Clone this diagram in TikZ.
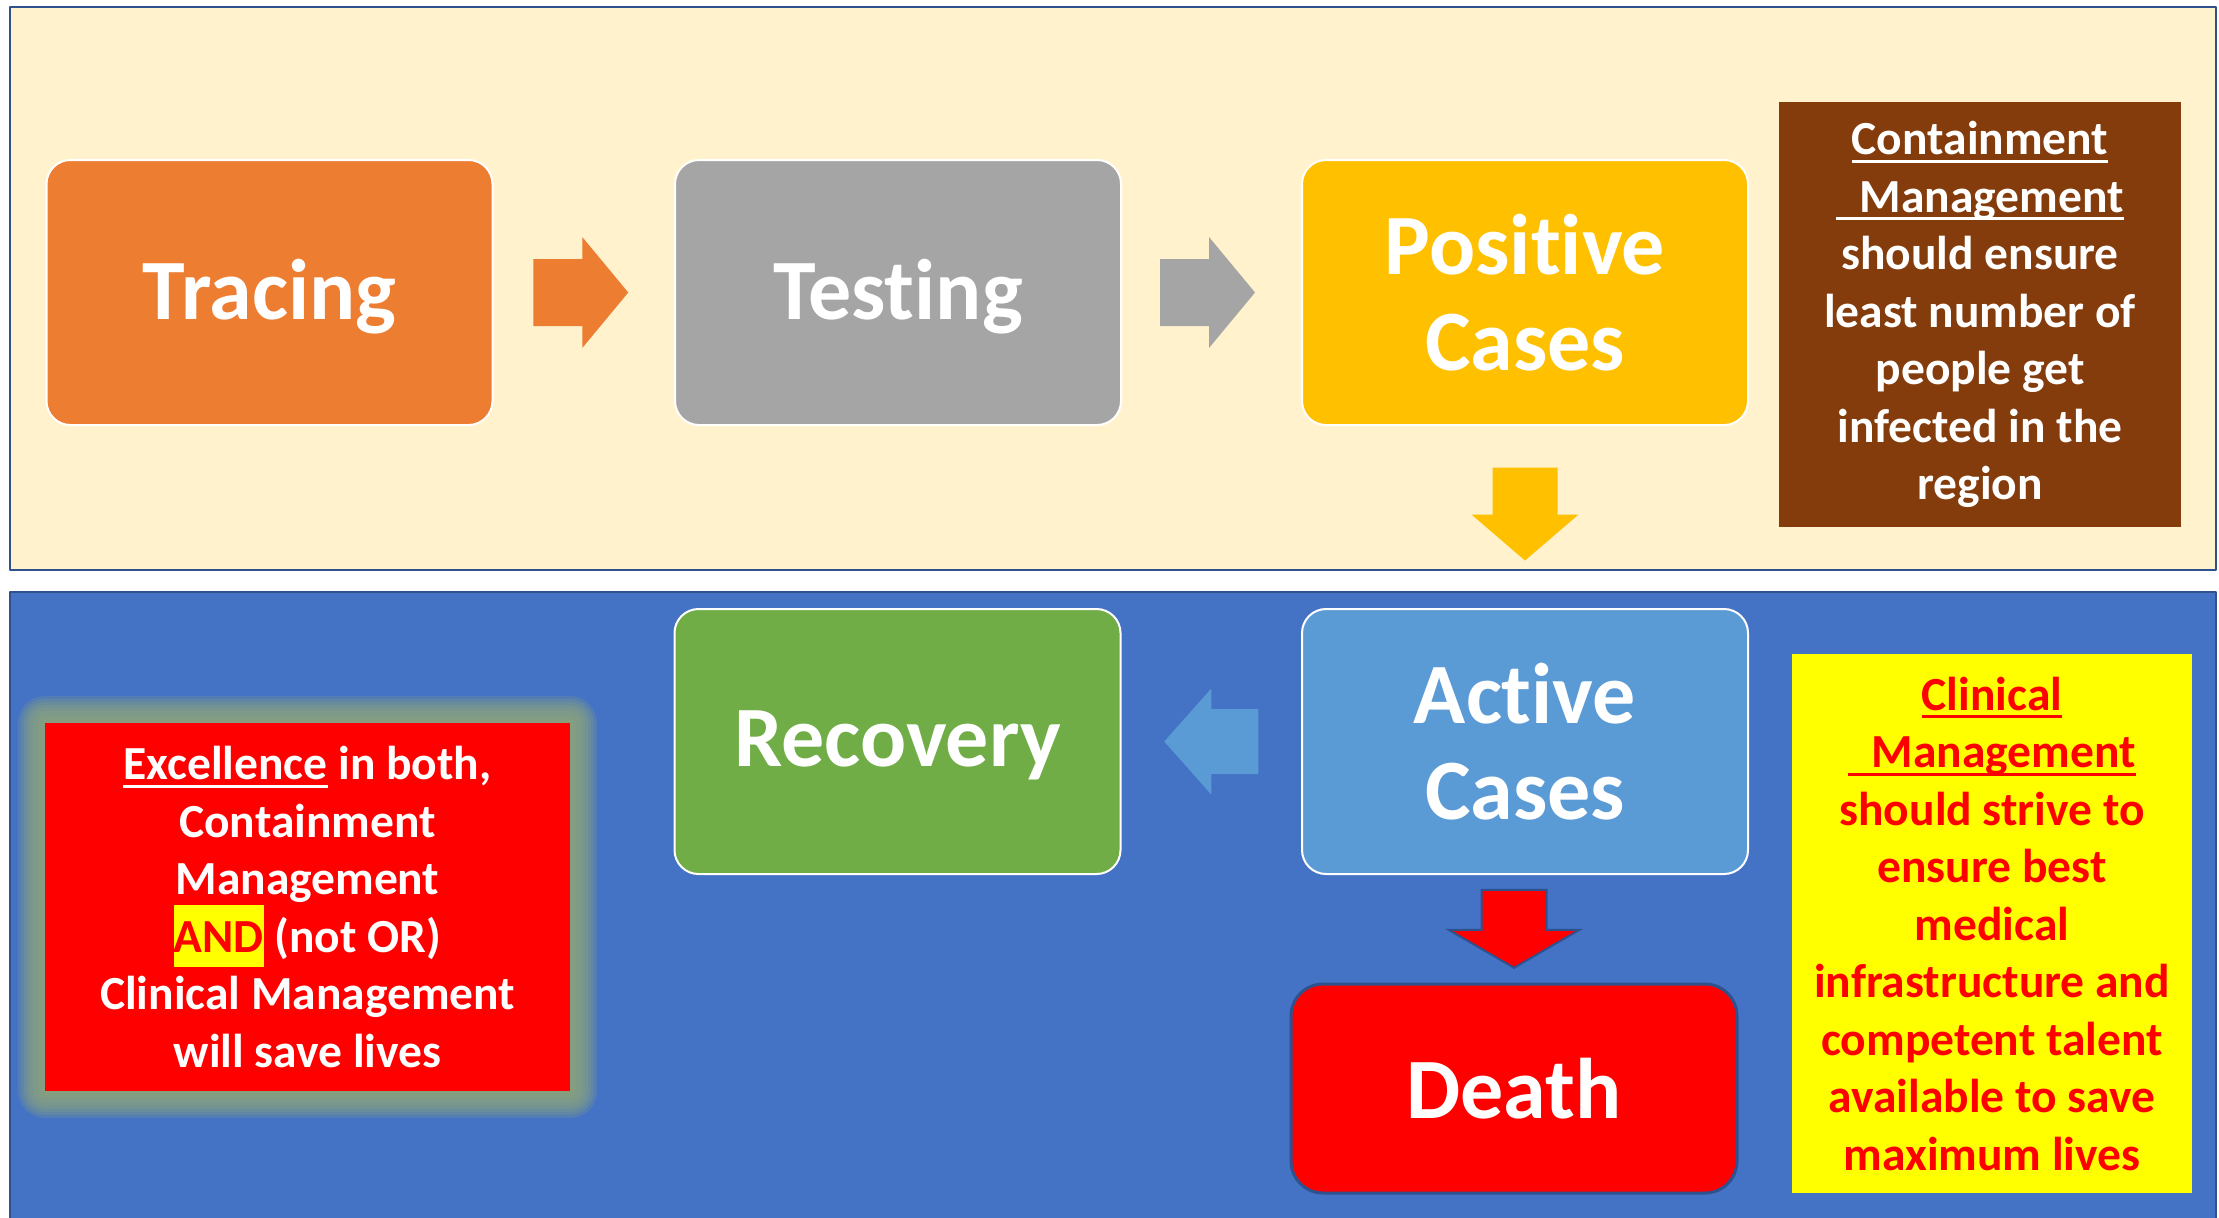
\documentclass[tikz,border=0pt]{standalone}
\usepackage{fontspec}
\setmainfont{Carlito}[Ligatures=NoCommon]
\usepackage{xcolor}
\usepackage{tikz}
\usetikzlibrary{calc}
\definecolor{fffscc}{rgb}{1.,0.949,0.8}
\definecolor{uuxscu}{rgb}{0.267,0.447,0.769}
\definecolor{sfvsyf}{rgb}{0.184,0.322,0.561}
\definecolor{edxdtr}{rgb}{0.929,0.490,0.192}
\definecolor{avavav}{rgb}{0.647,0.647,0.647}
\definecolor{ffcqqq}{rgb}{1.,0.753,0.}
\definecolor{yutcqc}{rgb}{0.518,0.235,0.047}
\definecolor{xqadux}{rgb}{0.439,0.678,0.278}
\definecolor{vbzbdv}{rgb}{0.357,0.608,0.835}
\definecolor{ffqqqq}{rgb}{1.,0.,0.}
\definecolor{ffffqq}{rgb}{1.,1.,0.}
\definecolor{yfawxb}{rgb}{0.561,0.651,0.482}
\setlength{\fboxsep}{0pt}
\newcommand{\ulbox}[1]{\leavevmode\setbox0=\hbox{#1}\rlap{\rule[-4pt]{\wd0}{1.4pt}}\box0\relax}
\tikzstyle{every node}=[font=\bfseries]
\tikzstyle{stepbox}=[rounded corners=12pt,draw=white,line width=1pt,minimum width=223pt,minimum height=132.5pt,text=white,align=center,font=\fontsize{43}{48}\selectfont\bfseries]
\tikzstyle{notebox}=[inner sep=0pt,align=center,font=\fontsize{23.75}{28.75}\selectfont\bfseries]
% block arrow pointing right: length/shaft/head/head length (in px)
\tikzset{pics/blockarrow/.style args={#1/#2/#3/#4}{code={
    \path [pic actions] (-#1/2,-#2/2) -- (#1/2-#4,-#2/2) -- (#1/2-#4,-#3/2) -- (#1/2,0)
        -- (#1/2-#4,#3/2) -- (#1/2-#4,#2/2) -- (-#1/2,#2/2) -- cycle;}}}

\begin{document}
\begin{tikzpicture}[line cap=round,line join=round,x=0.5pt,y=-0.5pt]
                \useasboundingbox (0,0) rectangle (2219,1217);
                \draw [line width=1pt,color=sfvsyf,fill=fffscc] (10,7) rectangle (2216,570);
                \draw [line width=1pt,color=sfvsyf,fill=uuxscu] (10,592) rectangle (2216,1230);
                \foreach \g in {3,6,...,27}
                    \fill [yfawxb,opacity=0.22,rounded corners={0.5*\g pt}] (45-\g,723-\g) rectangle (570+\g,1091+\g);
                \node [stepbox,fill=edxdtr,text depth=3pt] (tracing) at (269.5,292.5) {Tracing};
                \node [stepbox,fill=avavav,text depth=3pt] (testing) at (898,292.5) {Testing};
                \node [stepbox,fill=ffcqqq] (positive) at (1525,292.5) {Positive\\Cases};
                \node [stepbox,fill=xqadux,text depth=3pt] (recovery) at (897.5,741.5) {Recovery};
                \node [stepbox,fill=vbzbdv] (active) at (1525,741.5) {Active\\Cases};
                \node [stepbox,fill=ffqqqq,draw=sfvsyf,line width=1.5pt,rounded corners=16pt,minimum height=104.5pt] (death) at (1514,1088.5) {Death};
                \node [notebox,fill=yutcqc,text=white,minimum width=201pt,minimum height=212.5pt] (containment) at (1980,314.5)
                {\ulbox{Containment}\\ \ulbox{\hspace*{0.5em}Management}\\ should ensure\\ least number of\\ people get\\ infected in the\\ region};
                \node [notebox,fill=ffffqq,text=ffqqqq,minimum width=200pt,minimum height=269.5pt] (clinical) at (1992,923.5)
                {\ulbox{Clinical}\\ \ulbox{\hspace*{0.5em}Management}\\ should strive to\\ ensure best\\ medical\\ infrastructure and\\ competent talent\\ available to save\\ maximum lives};
                \node [notebox,fill=ffqqqq,text=white,minimum width=262.5pt,minimum height=184pt] (excellence) at (307.5,907)
                {\ulbox{Excellence} in both,\\ Containment\\ Management\\ \smash{\colorbox{ffffqq}{\rule[-0.32em]{0pt}{1.32em}\color{ffqqqq}AND}} (not OR)\\ Clinical Management\\ will save lives};
                \coordinate (a1) at ($(tracing.east)!0.5!(testing.west)$);
                \coordinate (a2) at ($(testing.east)!0.5!(positive.west)$);
                \coordinate (a3) at ($(positive.south)!0.5!(active.north)$);
                \coordinate (a4) at ($(recovery.east)!0.5!(active.west)$);
                \coordinate (a5) at ($(death.north)!0.5!(death.north |- active.south)$);
                \pic [fill=edxdtr] at ([xshift=-1.5pt]a1) {blockarrow=95/67/111/46};
                \pic [fill=avavav] at ([xshift=-2pt]a2) {blockarrow=95/67/111/46};
                \pic [fill=ffcqqq,rotate=-90] at ([yshift=1.5pt]a3) {blockarrow=93/65/107/46};
                \pic [fill=vbzbdv,rotate=180] at (a4) {blockarrow=94/65/106/47};
                \pic [fill=ffqqqq,draw=sfvsyf,line width=1pt,line join=miter,rotate=-90] at (a5) {blockarrow=78/65/131/38};
            \end{tikzpicture}
\end{document}
